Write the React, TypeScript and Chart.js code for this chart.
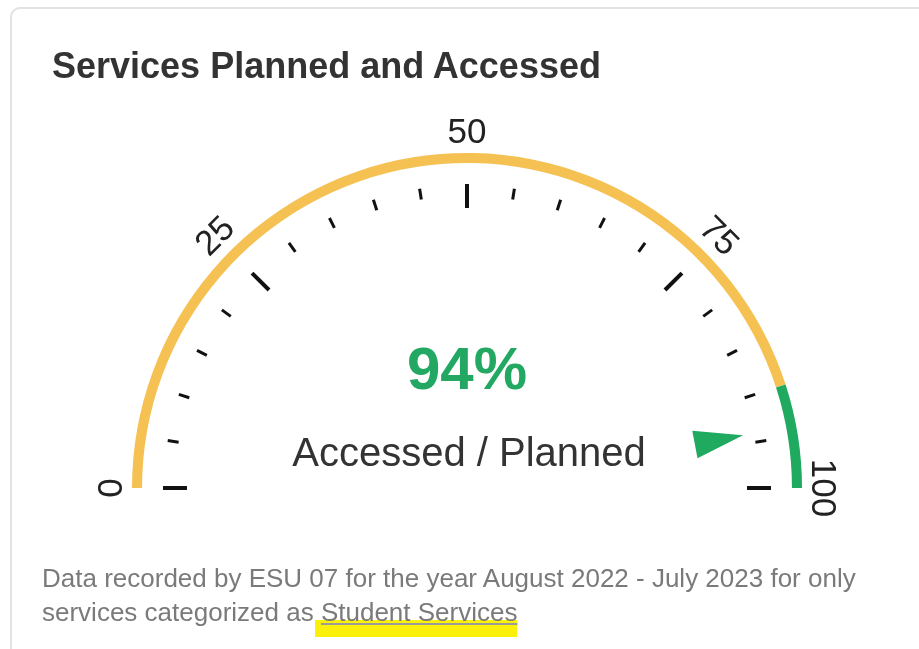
import React, { useEffect, useRef } from 'react';
import { Chart, registerables } from 'chart.js';

Chart.register(...registerables);

// ---- data ----
const segmentLabels = ['Below target', 'Target zone'];
const segmentValues = [90, 10];
const segmentColors = ['#F5C153', '#1FAA60'];
const gaugeMin = 0;
const gaugeMax = 100;
const accessedPercent = 94;
const majorTicks = [0, 25, 50, 75, 100];
const majorTickLabels = ['0', '25', '50', '75', '100'];
const minorTicks = [5, 10, 15, 20, 30, 35, 40, 45, 55, 60, 65, 70, 80, 85, 90, 95];
const centerValueText = '94%';
const centerCaption = 'Accessed / Planned';
const titleText = 'Services Planned and Accessed';
const footerLine1 = 'Data recorded by ESU 07 for the year August 2022 - July 2023 for only';
const footerLine2 = 'services categorized as ';
const footerHighlight = 'Student Services';

const FONT = '"Liberation Sans", Arial, Helvetica, sans-serif';

const gaugePlugin = {
  id: 'gaugeDecor',
  afterDatasetsDraw(chart: any) {
    const el = chart.getDatasetMeta(0).data[0];
    if (!el) return;
    const { x: cx, y: cy, outerRadius: R } = el.getProps(['x', 'y', 'outerRadius'], true);
    const ctx = chart.ctx as CanvasRenderingContext2D;
    const ang = (v: number) => Math.PI + ((v - gaugeMin) / (gaugeMax - gaugeMin)) * Math.PI;

    const tick = (v: number, r1: number, r2: number, w: number) => {
      const a = ang(v);
      ctx.beginPath();
      ctx.moveTo(cx + r1 * Math.cos(a), cy + r1 * Math.sin(a));
      ctx.lineTo(cx + r2 * Math.cos(a), cy + r2 * Math.sin(a));
      ctx.lineWidth = w;
      ctx.strokeStyle = '#111111';
      ctx.lineCap = 'butt';
      ctx.stroke();
    };

    ctx.save();
    majorTicks.forEach((v) => tick(v, R - 55, R - 31, 4));
    minorTicks.forEach((v) => tick(v, R - 43, R - 32, 3));

    // labels
    ctx.fillStyle = '#222222';
    ctx.font = `35px ${FONT}`;
    ctx.textAlign = 'center';
    ctx.textBaseline = 'middle';
    majorTicks.forEach((v, i) => {
      const a = ang(v);
      const r = R + 20;
      ctx.save();
      ctx.translate(cx + r * Math.cos(a), cy + r * Math.sin(a));
      ctx.rotate(a + Math.PI / 2);
      ctx.fillText(majorTickLabels[i], 0, 0);
      ctx.restore();
    });

    // pointer
    const a = ang(accessedPercent);
    const ca = Math.cos(a), sa = Math.sin(a);
    const rt = R - 54, rb = R - 103, hw = 14;
    ctx.beginPath();
    ctx.moveTo(cx + rt * ca, cy + rt * sa);
    ctx.lineTo(cx + rb * ca - hw * sa, cy + rb * sa + hw * ca);
    ctx.lineTo(cx + rb * ca + hw * sa, cy + rb * sa - hw * ca);
    ctx.closePath();
    ctx.fillStyle = segmentColors[1];
    ctx.fill();

    // center texts
    ctx.fillStyle = '#22A862';
    ctx.font = `bold 60px ${FONT}`;
    ctx.fillText(centerValueText, cx, cy - 116);
    ctx.fillStyle = '#333333';
    ctx.font = `40px ${FONT}`;
    ctx.fillText(centerCaption, cx + 2, cy - 33);
    ctx.restore();
  },
};

export default function App() {
  const canvasRef = useRef<HTMLCanvasElement | null>(null);

  useEffect(() => {
    if (!canvasRef.current) return;
    const chart = new Chart(canvasRef.current, {
      type: 'doughnut',
      data: {
        labels: segmentLabels,
        datasets: [
          {
            data: segmentValues,
            backgroundColor: segmentColors,
            borderWidth: 0,
          },
        ],
      },
      options: {
        responsive: false,
        animation: false,
        events: [],
        rotation: -90,
        circumference: 180,
        cutout: '97%',
        layout: { padding: { left: 132, right: 117, top: 153, bottom: 161 } },
        plugins: {
          legend: { display: false },
          tooltip: { enabled: false },
        },
      },
      plugins: [gaugePlugin],
    } as any);
    return () => chart.destroy();
  }, []);

  return (
    <div
      style={{
        position: 'fixed',
        left: 0,
        top: 0,
        width: 919,
        height: 649,
        background: '#ffffff',
        overflow: 'hidden',
        fontFamily: FONT,
      }}
    >
      <div
        style={{
          position: 'absolute',
          left: 10,
          top: 7,
          width: 1000,
          height: 700,
          border: '2px solid #e2e2e2',
          borderRadius: 10,
          boxSizing: 'border-box',
        }}
      />
      <div
        style={{
          position: 'absolute',
          left: 315,
          top: 620,
          width: 202,
          height: 17,
          background: '#FBF00A',
        }}
      />
      <canvas
        ref={canvasRef}
        width={919}
        height={649}
        style={{ position: 'absolute', left: 0, top: 0, width: 919, height: 649 }}
      />
      <div
        style={{
          position: 'absolute',
          left: 52,
          top: 45,
          fontSize: 36,
          lineHeight: '42px',
          fontWeight: 'bold',
          color: '#333333',
          whiteSpace: 'nowrap',
        }}
      >
        {titleText}
      </div>
      <div
        style={{
          position: 'absolute',
          left: 42,
          top: 561,
          fontSize: 26,
          lineHeight: '34px',
          color: '#7a7a7a',
          whiteSpace: 'nowrap',
        }}
      >
        {footerLine1}
        <br />
        {footerLine2}
        <span style={{ textDecoration: 'underline', textDecorationColor: '#9a9a9a' }}>{footerHighlight}</span>
      </div>
    </div>
  );
}
